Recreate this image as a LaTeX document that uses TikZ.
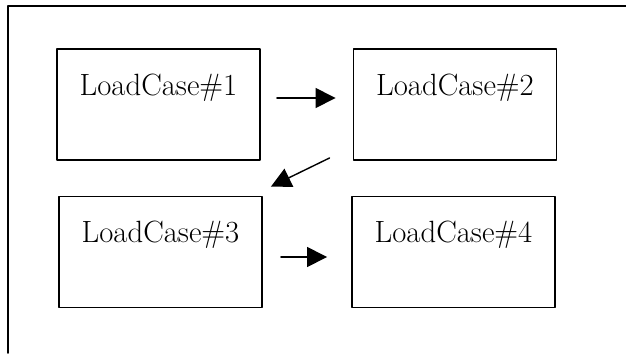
\documentclass[tikz,border=0pt]{standalone}
\usepackage{tikz}
\usetikzlibrary{arrows.meta}
\begin{document}
\begin{tikzpicture}[line cap=round,line join=round,x=0.02cm,y=0.02cm,
  casebox/.style={draw,line width=1.1pt,rectangle,inner sep=0pt,
    minimum width=4.06cm,text height=0.92cm,text depth=1.3cm,
    font=\fontsize{17.5}{21}\selectfont},
  flow/.style={line width=0.8pt,-{Triangle[length=0.4cm,width=0.4cm]}}]
\useasboundingbox (0,0) rectangle (626,353);
\draw [line width=1.1pt] (8,0)-- (8,347)-- (626,347);
\node[casebox] (lc1) at (158.5,248.5) {LoadCase\#1};
\node[casebox] (lc2) at (455,248.5) {LoadCase\#2};
\node[casebox] (lc3) at (160.5,101) {LoadCase\#3};
\node[casebox] (lc4) at (453.5,101) {LoadCase\#4};
\draw [flow,shorten <=0.32cm,shorten >=0.34cm] ([yshift=0.13cm]lc1.east)-- ([yshift=0.13cm]lc2.west);
\draw [flow] ([shift={(-0.46cm,0.06cm)}]lc2.south west)-- ([shift={(0.16cm,0.18cm)}]lc3.north east);
\draw [flow,shorten <=0.36cm,shorten >=0.48cm] ([yshift=-0.1cm]lc3.east)-- ([yshift=-0.1cm]lc4.west);
\end{tikzpicture}
\end{document}
